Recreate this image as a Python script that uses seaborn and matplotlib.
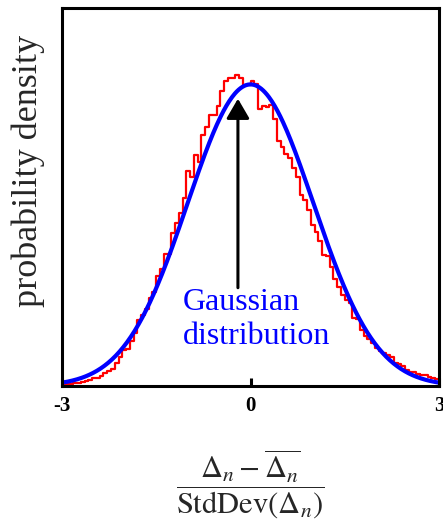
import numpy as np
import pandas as pd
import matplotlib
matplotlib.use("Agg")
import matplotlib.pyplot as plt
import seaborn as sns

# ---- data ----
bin_lo, bin_hi, n_bins = -3.0, 3.0, 100
hist_density = [
    0.002, 0.002, 0.003, 0.004, 0.004, 0.005, 0.006, 0.008, 0.010, 0.011,
    0.013, 0.017, 0.020, 0.023, 0.030, 0.039, 0.048, 0.049, 0.059, 0.070,
    0.087, 0.094, 0.102, 0.116, 0.124, 0.146, 0.155, 0.174, 0.175, 0.202,
    0.215, 0.229, 0.249, 0.285, 0.277, 0.305, 0.296, 0.332, 0.342, 0.358,
    0.358, 0.370, 0.390, 0.403, 0.407, 0.407, 0.411, 0.408, 0.398, 0.398,
    0.404, 0.399, 0.367, 0.370, 0.369, 0.372, 0.353, 0.324, 0.316, 0.307,
    0.301, 0.288, 0.276, 0.253, 0.246, 0.233, 0.213, 0.204, 0.192, 0.173,
    0.172, 0.158, 0.141, 0.131, 0.120, 0.114, 0.110, 0.090, 0.088, 0.074,
    0.066, 0.062, 0.057, 0.050, 0.046, 0.043, 0.041, 0.039, 0.031, 0.029,
    0.027, 0.021, 0.018, 0.018, 0.016, 0.015, 0.014, 0.012, 0.010, 0.009,
]
gauss_mu, gauss_sigma = 0.0, 1.0
x_ticks = [-3, 0, 3]
x_tick_labels = ["-3", "0", "3"]
y_label = "probability density"
x_label = r"$\dfrac{\Delta_n - \overline{\Delta_n}}{\mathrm{StdDev}(\Delta_n)}$"
annot_lines = ["Gaussian", "distribution"]
arrow_x, arrow_y0, arrow_y1 = -0.2, 0.130, 0.380

# ---- style ----
sns.set_theme(style="white")
plt.rcParams['font.family'] = ['Liberation Serif', 'DejaVu Serif']
plt.rcParams['mathtext.fontset'] = 'stix'

W, H = 443, 521
fig = plt.figure(figsize=(W / 100, H / 100), dpi=100)
ax = fig.add_axes([62 / W, (H - 386) / H, 377 / W, 378 / H])

binw = (bin_hi - bin_lo) / n_bins
edges = np.linspace(bin_lo, bin_hi, n_bins + 1)
centers = (edges[:-1] + edges[1:]) / 2
df = pd.DataFrame({"x": centers, "w": hist_density})
sns.histplot(data=df, x="x", weights="w", binwidth=binw, binrange=(bin_lo, bin_hi),
             element="step", fill=False, color="#ff0000", linewidth=1.6, ax=ax)

xg = np.linspace(bin_lo, bin_hi, 400)
yg = np.exp(-0.5 * ((xg - gauss_mu) / gauss_sigma) ** 2) / (gauss_sigma * np.sqrt(2 * np.pi))
sns.lineplot(x=xg, y=yg, color="#0000ff", linewidth=3.0, ax=ax)

ax.annotate("", xy=(arrow_x, arrow_y1), xytext=(arrow_x, arrow_y0),
            arrowprops=dict(arrowstyle="-|>,head_length=0.6,head_width=0.35",
                            color="black", lw=2.2, mutation_scale=20,
                            shrinkA=0, shrinkB=0))

ax.text(-1.074, 0.1005, annot_lines[0], color="#0000ff", fontsize=23,
        ha="left", va="baseline")
ax.text(-1.074, 0.0556, annot_lines[1], color="#0000ff", fontsize=23,
        ha="left", va="baseline")

ax.set_xlim(bin_lo, bin_hi)
ax.set_ylim(0, 0.5)
ax.set_xticks(x_ticks)
ax.set_xticklabels(x_tick_labels, fontweight="bold", fontsize=15)
ax.set_yticks([])
ax.tick_params(axis="x", direction="in", length=6, width=2.2, pad=7,
               bottom=True, top=False, colors="black")
for s in ax.spines.values():
    s.set_linewidth(2.2)
    s.set_color("black")

ax.set_ylabel(y_label, fontsize=26, labelpad=12, y=0.57)
ax.set_xlabel(x_label, fontsize=22, labelpad=23)

fig.savefig("out.png", dpi=100)
